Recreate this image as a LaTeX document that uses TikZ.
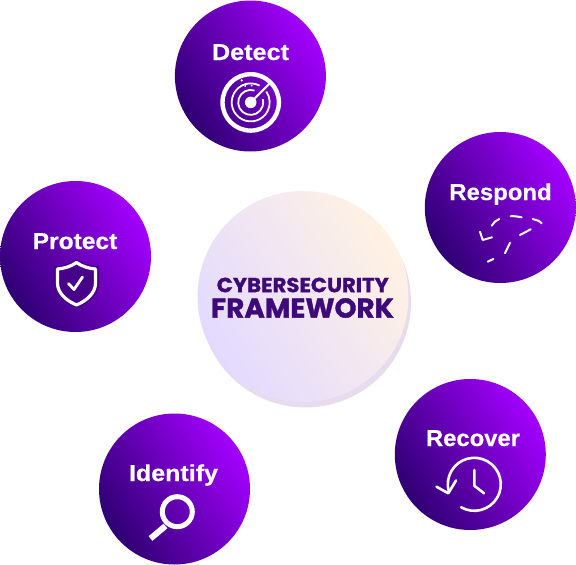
\documentclass[tikz,border=0pt]{standalone}
\usepackage{fontspec}
\usepackage{graphicx}
\setmainfont{Liberation Sans}
\newfontfamily\heavyfont{Poppins}[BoldFeatures={FakeBold=1.2}]
\newfontfamily\labfont{Liberation Sans}[BoldFeatures={FakeBold=0.45}]
\definecolor{pdark}{HTML}{2E0072}
\definecolor{plight}{HTML}{A400FF}
\definecolor{pinner}{HTML}{47008A}
\definecolor{ink}{HTML}{3D0A78}
\definecolor{hublow}{HTML}{E3DAFF}
\definecolor{hubhigh}{HTML}{FFF2E3}
\definecolor{hubshadow}{HTML}{E6DCEE}
\newcommand{\lab}[2]{\resizebox{#1}{\height}{\fontsize{23}{25}\labfont\bfseries #2}}
\tikzset{
  x=1pt,y=1pt,
  disc/.style={circle,inner sep=0pt,minimum size=151pt,left color=pdark,right color=plight,shading angle=122},
  title/.style={inner sep=0pt,anchor=base,text=white},
  icon/.style={draw=white,line cap=round,line join=round},
}
\begin{document}
\begin{tikzpicture}
\useasboundingbox (0,0) rectangle (576,-565);
% centre
\node[circle,inner sep=0pt,minimum size=211pt,fill=hubshadow] (shadow) at (305.5,-302) {};
\node[circle,inner sep=0pt,minimum size=211pt,left color=hublow,right color=hubhigh,shading angle=122] (hub) at (303,-296.5) {};
\node[inner sep=0pt,text=ink] (cs) at (302.8,-285) {\resizebox{172pt}{14.5pt}{\heavyfont\bfseries CYBERSECURITY}};
\node[inner sep=0pt,text=ink] (fw) at (302.5,-308) {\resizebox{183pt}{19.5pt}{\heavyfont\bfseries FRAMEWORK}};
% discs
\node[disc] (detect) at (250.4,-76) {};
\node[disc] (respond) at (500.3,-207.5) {};
\node[disc] (recover) at (470.3,-454.5) {};
\node[disc] (identify) at (174.5,-489) {};
\node[disc] (protect) at (75.5,-256.5) {};
% labels
\node[title] (tdetect) at (250.5,-60) {\lab{77pt}{Detect}};
\node[title] (trespond) at (500.5,-200) {\lab{102.4pt}{Respond}};
\node[title] (trecover) at (473,-446) {\lab{94pt}{Recover}};
\node[title] (tidentify) at (173.5,-481) {\lab{89pt}{Identify}};
\node[title] (tprotect) at (75,-249) {\lab{84.6pt}{Protect}};
% radar
\begin{scope}[shift={(250.7,-102.4)}]
  \draw[icon,line width=4.4pt] (0,0) circle (28.2);
  \draw[icon,line width=1.8pt,line cap=butt] (62:19) arc (62:395:19);
  \draw[icon,line width=1.8pt,line cap=butt] (72:12.5) arc (72:375:12.5);
  \fill[white] (0,0) circle (5.8);
  \draw[icon,line width=2pt] (0,0) -- (19.5,19.5);
  \fill[white] (-9,22) circle (1.2) (-5.5,16.5) circle (1.1) (1,16.8) circle (1.1);
\end{scope}
% shield
\draw[line width=1.2pt,draw=pinner,fill=pinner,line join=round] (76.5,-259.5)
  .. controls (70,-264.5) and (63,-266) .. (54.5,-266.5) -- (54.5,-283)
  .. controls (54.5,-295) and (65,-303) .. (76.5,-308)
  .. controls (88,-303) and (98.5,-295) .. (98.5,-283) -- (98.5,-266.5)
  .. controls (90,-266) and (83,-264.5) .. (76.5,-259.5) -- cycle;
\draw[icon,line width=3.2pt] (76.5,-262.5)
  .. controls (71,-266.5) and (64,-268.5) .. (57.5,-269) -- (57.5,-283)
  .. controls (57.5,-293) and (66,-300.5) .. (76.5,-305)
  .. controls (87,-300.5) and (95.5,-293) .. (95.5,-283) -- (95.5,-269)
  .. controls (89,-268.5) and (82,-266.5) .. (76.5,-262.5) -- cycle;
\draw[icon,line width=2.8pt] (68.5,-283.5) -- (74,-289.5) -- (82.5,-277);
% respond dashes
\begin{scope}[icon,line width=2pt]
  \draw (491.7,-225.7) .. controls (493.5,-222.5) and (496,-220.2) .. (499.3,-219);
  \draw (510.7,-216.2) .. controls (514,-216) and (518,-216.5) .. (521.7,-217.3);
  \draw (532.7,-219) .. controls (536,-219.8) and (540,-221) .. (541.7,-223.3);
  \draw (530.7,-229.3) -- (520,-235);
  \draw (510,-242.7) -- (505,-253.3);
  \draw (493.3,-259) -- (487.7,-261.7);
  \draw (480,-231.7) -- (482.7,-240) -- (492,-237.3);
\end{scope}
% recover clock
\draw[icon,line width=2.6pt] (474.3,-484.3) ++(-120:26.5) arc (-120:196:26.5);
\draw[icon,line width=2.6pt] (436.5,-486.7) -- (448.3,-493.3) -- (456,-480.5);
\draw[icon,line width=2.6pt] (474.3,-470) -- (474.3,-485.7) -- (484,-493.3);
% magnifier
\draw[white,line width=5pt] (177.3,-511.7) circle (15);
\draw[white,line width=6pt] (165.5,-526) -- (150.5,-538.5);
\end{tikzpicture}
\end{document}
